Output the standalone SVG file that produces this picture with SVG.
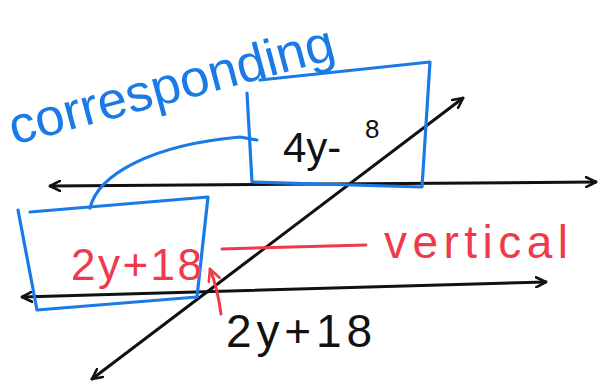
<svg xmlns="http://www.w3.org/2000/svg" width="602" height="391" viewBox="0 0 602 391">
<defs>
<marker id="ah" viewBox="0 0 12 12" refX="11" refY="6" markerWidth="12" markerHeight="12" markerUnits="userSpaceOnUse" orient="auto-start-reverse">
<path d="M1,1 L11,6 L1,11" fill="none" stroke="#111" stroke-width="2.6" stroke-linecap="round" stroke-linejoin="round"/>
</marker>
<marker id="ahr" viewBox="0 0 12 12" refX="11" refY="6" markerWidth="14" markerHeight="14" markerUnits="userSpaceOnUse" orient="auto">
<path d="M1,1 L11,6 L1,11" fill="none" stroke="#ee3a4a" stroke-width="2.2" stroke-linecap="round" stroke-linejoin="round"/>
</marker>
</defs>
<style>
.blk{fill:none;stroke:#111;stroke-width:3;stroke-linecap:round;stroke-linejoin:round}
.blu{fill:none;stroke:#1a7ae6;stroke-width:3.2;stroke-linecap:round;stroke-linejoin:round}
.red{fill:none;stroke:#ee3a4a;stroke-width:3;stroke-linecap:round;stroke-linejoin:round}
.t{font-family:"Liberation Sans","DejaVu Sans",sans-serif}
</style>
<rect width="602" height="391" fill="#fff"/>
<g id="connectors">
<path class="blk" d="M50,186 L596,182" marker-start="url(#ah)" marker-end="url(#ah)"/>
<path class="blk" d="M22,297 L546,282" marker-start="url(#ah)" marker-end="url(#ah)"/>
<path class="blk" d="M92,379 L463,98" marker-start="url(#ah)" marker-end="url(#ah)"/>
<path class="blu" d="M90,208 C98,175 150,145 240,137 L257,140"/>
<path class="red" d="M222,249 L366,245"/>
<path class="red" d="M221,314 C219,298 215,282 210,269" marker-end="url(#ahr)"/>
</g>
<g id="box-top">
<path class="blu" d="M247,93 L252,182 L422,187 L430,62 L260,80"/>
<text class="t" x="283" y="162" font-size="42" fill="#111">4y-</text>
<text class="t" x="365" y="138" font-size="26" fill="#111">8</text>
</g>
<g id="box-bottom">
<path class="blu" d="M18,210 L37,310 L197,297 L208,197 L30,212"/>
<text class="t" x="71" y="280" font-size="44" fill="#ee3a4a" textLength="131" lengthAdjust="spacing">2y+18</text>
</g>
<g id="label-corresponding">
<text class="t" x="14" y="145" font-size="52" fill="#1a7ae6" transform="rotate(-15 14 145)" textLength="335" lengthAdjust="spacingAndGlyphs">corresponding</text>
</g>
<g id="label-vertical">
<text class="t" x="384" y="258" font-size="46" fill="#ee3a4a" textLength="184" lengthAdjust="spacing">vertical</text>
</g>
<g id="label-angle">
<text class="t" x="226" y="347" font-size="46" fill="#111" textLength="146" lengthAdjust="spacing">2y+18</text>
</g>
</svg>
